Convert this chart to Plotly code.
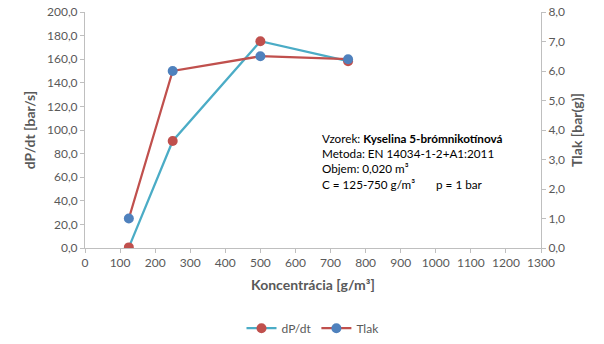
import plotly.graph_objects as go

conc = [125, 250, 500, 750]
dpdt = [0.5, 90.7, 175.2, 158.3]
tlak = [1.0, 6.0, 6.5, 6.4]

x_ticks = list(range(0, 1301, 100))

TEAL = "#4BACC6"
RED = "#C0504D"
BLUE = "#4F81BD"
TXT = "#595959"
AX = "#BFBFBF"
FONT = "Lato"

fig = go.Figure()
fig.add_trace(go.Scatter(
    x=conc, y=dpdt, name="dP/dt", mode="lines+markers",
    line=dict(color=TEAL, width=2.25),
    marker=dict(color=RED, size=10),
    yaxis="y"))
fig.add_trace(go.Scatter(
    x=conc, y=tlak, name="Tlak", mode="lines+markers",
    line=dict(color=RED, width=2.25),
    marker=dict(color=BLUE, size=10),
    yaxis="y2"))

axis_common = dict(showgrid=False, zeroline=False, showline=True, linecolor=AX,
                   linewidth=1, ticks="outside", tickcolor=AX, ticklen=4,
                   automargin=False,
                   tickfont=dict(color=TXT, size=12, family=FONT))

fig.update_layout(
    width=604, height=344,
    margin=dict(l=85, r=63, t=12, b=96, autoexpand=False),
    paper_bgcolor="white", plot_bgcolor="white",
    separators=",.",
    font=dict(family=FONT, color=TXT, size=12),
    xaxis=dict(range=[0, 1300], tickvals=x_ticks, tickformat="d",
               title=dict(text="<b>Koncentrácia [g/m³]</b>", font=dict(size=14, color=TXT), standoff=10),
               **axis_common),
    yaxis=dict(range=[0, 200], dtick=20, tickformat=".1f",
               title=dict(text="<b>dP/dt [bar/s]</b>", font=dict(size=14, color=TXT), standoff=8),
               **axis_common),
    yaxis2=dict(range=[0, 8], dtick=1, tickformat=".1f", overlaying="y", side="right",
                title=dict(text="<b>Tlak [bar(g)]</b>", font=dict(size=14, color=TXT), standoff=8),
                **axis_common),
    legend=dict(orientation="h", x=0.5, xanchor="center", y=-0.34, yanchor="middle",
                font=dict(size=12, color=TXT)),
    showlegend=True,
)

fig.add_annotation(
    xref="paper", yref="paper", x=0.516, y=0.505, xanchor="left", yanchor="top",
    align="left", showarrow=False,
    text=("Vzorek: <b>Kyselina 5-brómnikotínová</b><br>"
          "Metoda: EN 14034-1-2+A1:2011<br>"
          "Objem: 0,020 m³<br>"
          "C = 125-750 g/m³&nbsp;&nbsp;&nbsp;&nbsp;&nbsp;&nbsp;&nbsp;p = 1 bar"),
    font=dict(size=11.7, color="#000000", family=FONT),
)

fig.write_html("out.html")
